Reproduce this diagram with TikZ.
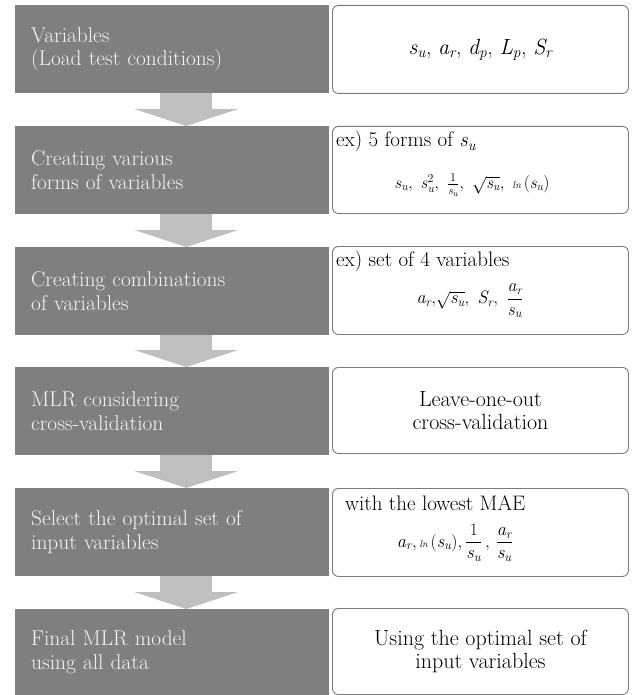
\documentclass[tikz,border=0pt]{standalone}
\usepackage{amsmath}
\usepackage{fontspec}
\usetikzlibrary{arrows.meta,calc}
\definecolor{darkfill}{HTML}{7F7F7F}
\definecolor{lighttext}{HTML}{F4F4F4}
\definecolor{arrowfill}{HTML}{BFBFBF}
\definecolor{boxline}{HTML}{7A7A7A}
\newcommand{\iv}[1]{\textit{#1}}
\newcommand{\lnf}{\textit{\fontsize{10}{10}\selectfont ln}}
\begin{document}
\begin{tikzpicture}[x=1pt,y=-1pt,
  darkbox/.style={rectangle, fill=darkfill, text=lighttext, anchor=north west,
    minimum width=314pt, minimum height=88pt, text width=282pt,
    inner xsep=16pt, inner ysep=0pt, align=left, font=\fontsize{21.4}{23.5}\selectfont},
  sidebox/.style={rectangle, rounded corners=6pt, draw=boxline, line width=0.9pt,
    fill=white, anchor=north west, minimum width=296pt, inner sep=0pt,
    align=center, font=\fontsize{22}{23.5}\selectfont},
  flow/.style={draw=arrowfill, line width=52pt,
    -{Triangle[width=104pt,length=17pt,line width=0pt,fill=arrowfill]}},
  note/.style={anchor=base west, inner sep=0pt, font=\fontsize{21}{23}\selectfont},
  formula/.style={inner sep=0pt}
]
\useasboundingbox (0,0) rectangle (631,695);

% left process boxes
\node[darkbox] (b1) at (15,5)   {Variables\\(Load test conditions)};
\node[darkbox] (b2) at (15,126) {Creating various\\forms of variables};
\node[darkbox] (b3) at (15,247) {Creating combinations\\of variables};
\node[darkbox] (b4) at (15,367) {MLR considering\\cross-validation};
\node[darkbox] (b5) at (15,488) {Select the optimal set of\\input variables};
\node[darkbox, minimum height=86pt] (b6) at (15,609) {Final MLR model\\using all data};

% arrows
\draw[flow] ($(b1.south)+(14,0)$) -- ($(b2.north)+(14,0)$);
\draw[flow] ($(b2.south)+(14,0)$) -- ($(b3.north)+(14,0)$);
\draw[flow] ($(b3.south)+(14,0)$) -- ($(b4.north)+(14,0)$);
\draw[flow] ($(b4.south)+(14,0)$) -- ($(b5.north)+(14,0)$);
\draw[flow] ($(b5.south)+(14,0)$) -- ($(b6.north)+(14,0)$);

% right boxes
\node[sidebox, minimum height=88pt] (r1) at (332,5)
  {$\iv{s}_{\iv{u}}$, $\iv{a}_{\iv{r}}$, $\iv{d}_{\iv{p}}$, $\iv{L}_{\iv{p}}$, $\iv{S}_{\iv{r}}$};
\node[sidebox, minimum height=87pt] (r2) at (332,126) {};
\node[sidebox, minimum height=88pt] (r3) at (332,246) {};
\node[sidebox, minimum height=86pt] (r4) at (332,367) {Leave-one-out\\cross-validation};
\node[sidebox, minimum height=88pt] (r5) at (332,488) {};
\node[sidebox, minimum height=86pt] (r6) at (332,608) {Using the optimal set of\\input variables};

% contents of right boxes
\node[note] (t2) at ($(r2.north west)+(4,21)$) {ex) 5 forms of $\iv{s}_{\iv{u}}$};
\node[formula, font=\fontsize{17}{20}\selectfont] (f2) at (472,185)
  {$\iv{s}_{\iv{u}},\ \iv{s}^{2}_{\iv{u}},\ \frac{1}{\iv{s}_{\iv{u}}},\ \sqrt{\iv{s}_{\iv{u}}},\ \lnf\,(\iv{s}_{\iv{u}})$};

\node[note] (t3) at ($(r3.north west)+(4,20)$) {ex) set of 4 variables};
\node[formula, font=\fontsize{18}{21}\selectfont] (f3) at (470,301)
  {$\iv{a}_{\iv{r}},\!\sqrt{\iv{s}_{\iv{u}}},\ \iv{S}_{\iv{r}},\ \dfrac{\iv{a}_{\iv{r}}}{\iv{s}_{\iv{u}}}$};

\node[note] (t5) at ($(r5.north west)+(13,22)$) {with the lowest MAE};
\node[formula, font=\fontsize{18.5}{21}\selectfont] (f5) at (455,543)
  {$\iv{a}_{\iv{r}},\lnf\,(\iv{s}_{\iv{u}}),\dfrac{1}{\iv{s}_{\iv{u}}}\,,\,\dfrac{\iv{a}_{\iv{r}}}{\iv{s}_{\iv{u}}}$};
\end{tikzpicture}
\end{document}
